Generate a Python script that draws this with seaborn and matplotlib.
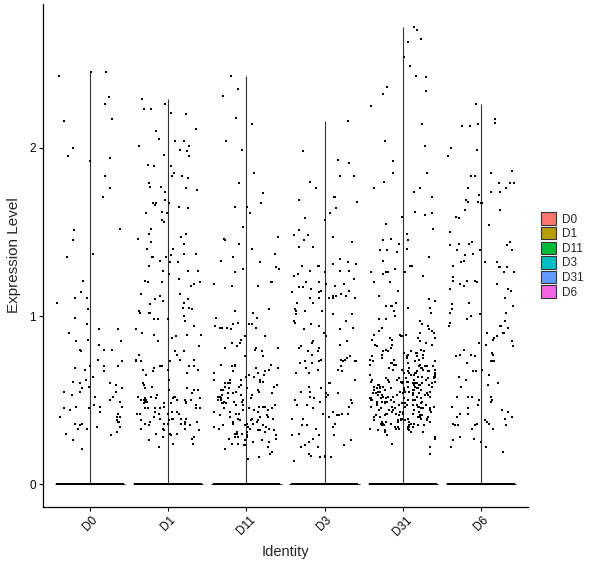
import numpy as np
import pandas as pd
import matplotlib
matplotlib.use("Agg")
import matplotlib.pyplot as plt
from matplotlib.patches import Patch
import seaborn as sns

# clusters on the x axis
idents = ["D0", "D1", "D11", "D3", "D31", "D6"]

# cells with zero expression in each cluster (they pile up on the 0 line)
zero_counts = [350, 450, 550, 450, 650, 400]

# non-zero expression values, per cluster
d0_expr = [2.45, 2.43, 2.45, 2.30, 2.26, 2.16, 2.17, 2.00, 1.94, 1.92, 1.95, 1.83, 1.76, 1.71, 1.52,
           1.51, 1.45, 1.35, 1.37, 1.21, 1.14, 1.11, 1.11, 1.08, 1.04, 0.99, 0.95, 0.92, 0.90, 0.92,
           0.83, 0.85, 0.86, 0.85, 0.80, 0.80, 0.80, 0.79, 0.73, 0.74, 0.70, 0.70, 0.68, 0.67, 0.69,
           0.70, 0.64, 0.61, 0.62, 0.59, 0.60, 0.58, 0.60, 0.57, 0.57, 0.55, 0.55, 0.52, 0.53, 0.55,
           0.52, 0.50, 0.49, 0.46, 0.46, 0.44, 0.45, 0.47, 0.46, 0.45, 0.43, 0.42, 0.40, 0.37, 0.37,
           0.40, 0.40, 0.38, 0.36, 0.33, 0.33, 0.34, 0.34, 0.35, 0.36, 0.31, 0.29, 0.30, 0.26, 0.21]

d1_expr = [2.29, 2.26, 2.23, 2.21, 2.23, 2.20, 2.11, 2.10, 2.05, 2.04, 2.04, 2.01, 1.99, 2.01, 1.98,
           1.96, 1.95, 1.89, 1.90, 1.89, 1.85, 1.83, 1.82, 1.83, 1.79, 1.77, 1.76, 1.74, 1.77, 1.75,
           1.69, 1.67, 1.67, 1.66, 1.67, 1.65, 1.64, 1.62, 1.61, 1.61, 1.57, 1.56, 1.52, 1.49, 1.49,
           1.46, 1.47, 1.43, 1.44, 1.40, 1.40, 1.37, 1.35, 1.36, 1.35, 1.37, 1.35, 1.33, 1.32, 1.32,
           1.30, 1.27, 1.27, 1.27, 1.25, 1.22, 1.21, 1.20, 1.19, 1.20, 1.20,
           1.18, 1.13, 1.12, 1.13, 1.10, 1.08, 1.09, 1.10, 1.07, 1.05, 1.04, 1.05, 1.02, 1.02, 1.02,
           1.03, 1.00, 0.98, 0.97, 0.98, 0.98, 0.94, 0.89, 0.90, 0.89, 0.87, 0.92, 0.88, 0.89, 0.85,
           0.82, 0.79, 0.77, 0.74, 0.74, 0.74, 0.79, 0.77, 0.73, 0.73, 0.73, 0.70, 0.70, 0.69, 0.70,
           0.68, 0.68, 0.68, 0.67, 0.66, 0.65, 0.70, 0.62, 0.59, 0.57, 0.56, 0.57, 0.60, 0.58, 0.56,
           0.56, 0.54, 0.53, 0.52, 0.52, 0.51, 0.52, 0.52, 0.51, 0.51, 0.51, 0.50, 0.50, 0.48, 0.49,
           0.49, 0.50, 0.50, 0.50, 0.48, 0.50, 0.48, 0.47, 0.49, 0.46, 0.45, 0.48, 0.45, 0.45, 0.45,
           0.43, 0.42, 0.45, 0.45, 0.42, 0.43, 0.42, 0.42, 0.43, 0.39, 0.38, 0.40, 0.39, 0.37, 0.38,
           0.37, 0.35, 0.35, 0.36, 0.36, 0.37, 0.39, 0.36, 0.36, 0.39, 0.42, 0.39, 0.36, 0.33, 0.33,
           0.33, 0.32, 0.32, 0.30, 0.30, 0.28, 0.28, 0.29, 0.30, 0.27, 0.26, 0.24, 0.24, 0.22]

d11_expr = [2.43, 2.35, 2.31, 2.18, 2.14, 2.04, 1.99, 1.85, 1.79, 1.73, 1.65, 1.65, 1.67, 1.61, 1.53,
            1.46, 1.47, 1.45, 1.43, 1.40, 1.37, 1.35, 1.33, 1.32, 1.29, 1.28, 1.28, 1.26, 1.20, 1.19,
            1.18, 1.20, 1.18,
            1.04, 1.02, 1.03, 0.99, 0.99, 0.96, 0.95, 0.93, 0.94, 0.93, 0.93, 0.93, 0.95, 0.95, 0.92,
            0.88, 0.86, 0.88, 0.84, 0.84, 0.81, 0.81, 0.81, 0.80, 0.82, 0.79, 0.76, 0.76,
            0.71, 0.71, 0.71, 0.69, 0.70, 0.70, 0.69, 0.67, 0.68, 0.65, 0.66, 0.64, 0.66, 0.64, 0.62,
            0.67, 0.62, 0.62, 0.65, 0.62,
            0.61, 0.61, 0.60, 0.60, 0.60, 0.59, 0.59, 0.58, 0.58, 0.58, 0.57, 0.57, 0.56, 0.56, 0.56,
            0.55, 0.55, 0.54, 0.54, 0.54, 0.53, 0.53, 0.53, 0.52, 0.52, 0.51, 0.51, 0.51, 0.50, 0.50,
            0.50, 0.49, 0.49, 0.49, 0.48, 0.48, 0.48, 0.47, 0.47, 0.47, 0.46, 0.46, 0.46, 0.45, 0.45,
            0.45, 0.44, 0.44, 0.44, 0.43, 0.43, 0.43, 0.42, 0.42, 0.41,
            0.41, 0.40, 0.40, 0.40, 0.39, 0.39, 0.39, 0.38, 0.38, 0.38, 0.37, 0.37, 0.37, 0.36, 0.36,
            0.36, 0.35, 0.35, 0.35, 0.34, 0.34, 0.34, 0.33, 0.33, 0.33, 0.32, 0.32, 0.32, 0.31, 0.31,
            0.31, 0.30, 0.30, 0.30, 0.29, 0.29, 0.28, 0.28, 0.28, 0.27, 0.27, 0.26, 0.26, 0.25, 0.25,
            0.24, 0.24, 0.23, 0.23, 0.22, 0.19, 0.18, 0.16, 0.15, 0.21]

d3_expr = [2.16, 1.98, 1.93, 1.91, 1.83, 1.83, 1.80, 1.76, 1.71, 1.69, 1.68, 1.71, 1.64, 1.61, 1.57,
           1.58, 1.51, 1.48, 1.48, 1.47, 1.45, 1.44, 1.41, 1.41, 1.32, 1.31, 1.30, 1.34, 1.30, 1.30,
           1.31, 1.27, 1.27, 1.27, 1.26, 1.25, 1.24, 1.22, 1.20, 1.20, 1.19, 1.19, 1.18, 1.17, 1.15,
           1.14, 1.16, 1.17, 1.15, 1.13, 1.11, 1.11, 1.11, 1.11,
           1.14, 1.12, 1.12, 1.11, 1.12, 1.08, 1.08, 1.04, 1.03, 1.03, 1.03, 1.01, 1.01, 1.01,
           0.97, 0.96, 0.95, 0.97, 0.94, 0.93, 0.92, 0.92, 0.90, 0.88, 0.85, 0.84, 0.85, 0.83, 0.82,
           0.81, 0.81,
           0.79, 0.77, 0.79, 0.76, 0.73, 0.72, 0.73, 0.75, 0.68, 0.73, 0.72, 0.74, 0.74, 0.73, 0.73,
           0.74, 0.69, 0.68, 0.70, 0.67, 0.66, 0.66, 0.62, 0.60, 0.60,
           0.58, 0.57, 0.55, 0.55, 0.52, 0.53, 0.52, 0.54, 0.51, 0.49, 0.46, 0.48, 0.50, 0.47, 0.43,
           0.42, 0.45, 0.42, 0.42, 0.54, 0.41, 0.47, 0.50,
           0.41, 0.40, 0.39, 0.39, 0.35, 0.34, 0.33, 0.36, 0.35, 0.29, 0.30, 0.26, 0.25, 0.29, 0.23,
           0.27, 0.29, 0.22, 0.23, 0.22, 0.17, 0.17, 0.18, 0.16, 0.14, 0.16, 0.16]

d31_expr = [2.72, 2.70, 2.65, 2.63, 2.54, 2.49, 2.43, 2.42, 2.36, 2.34, 2.32, 2.25, 2.14, 2.04, 2.01,
            1.92, 1.85, 1.85, 1.76, 1.76, 1.71, 1.80, 1.74, 1.71, 1.60, 1.59, 1.61, 1.62, 1.55, 1.52,
            1.49, 1.46, 1.43, 1.45, 1.45, 1.40, 1.39, 1.38, 1.39, 1.35, 1.33, 1.30, 1.30, 1.30, 1.28,
            1.26, 1.26, 1.25, 1.24, 1.26, 1.26,
            1.20, 1.20, 1.15, 1.09, 1.08, 1.06, 1.05, 1.03, 1.06, 1.00, 1.10, 1.12,
            0.98, 0.97, 0.93, 0.91, 0.98, 0.94, 0.91, 1.02, 1.06, 1.05, 0.89, 0.88, 0.89, 0.89, 0.90,
            0.90, 0.88, 0.87, 0.85, 0.82, 0.81, 0.86, 0.83, 0.84, 0.87, 0.87, 0.83, 0.83, 0.79, 0.78,
            0.92, 0.95, 0.86,
            0.80, 0.80, 0.79, 0.79, 0.79, 0.78, 0.78, 0.77, 0.77, 0.77, 0.76, 0.76, 0.76, 0.75, 0.75,
            0.75, 0.74, 0.74, 0.74, 0.73, 0.73, 0.73, 0.72, 0.72, 0.72, 0.72, 0.71, 0.71, 0.71, 0.71,
            0.70, 0.70, 0.70, 0.70, 0.69, 0.69, 0.69, 0.69, 0.68, 0.68, 0.68, 0.68, 0.67, 0.67, 0.67,
            0.67, 0.67, 0.66, 0.66, 0.66, 0.66, 0.66, 0.65, 0.65, 0.65, 0.65, 0.65, 0.64, 0.64, 0.64,
            0.64, 0.64, 0.63, 0.63, 0.63, 0.63, 0.63, 0.62, 0.62, 0.62, 0.62, 0.62, 0.62, 0.61, 0.61,
            0.61, 0.61, 0.61, 0.61, 0.61,
            0.60, 0.60, 0.60, 0.60, 0.60, 0.60, 0.59, 0.59, 0.59, 0.59, 0.59, 0.59, 0.58, 0.58, 0.58,
            0.58, 0.58, 0.58, 0.57, 0.57, 0.57, 0.57, 0.57, 0.57, 0.56, 0.56, 0.56, 0.56, 0.56, 0.56,
            0.55, 0.55, 0.55, 0.55, 0.55, 0.55, 0.54, 0.54, 0.54, 0.54, 0.54, 0.54, 0.53, 0.53, 0.53,
            0.53, 0.53, 0.53, 0.52, 0.52, 0.52, 0.52, 0.52, 0.52, 0.51, 0.51, 0.51, 0.51, 0.51, 0.51,
            0.50, 0.50, 0.50, 0.50, 0.50, 0.50, 0.49, 0.49, 0.49, 0.49, 0.49, 0.49, 0.48, 0.48, 0.48,
            0.48, 0.48, 0.48, 0.47, 0.47, 0.47, 0.47, 0.47, 0.47, 0.46, 0.46, 0.46, 0.46, 0.46, 0.46,
            0.45, 0.45, 0.45, 0.45, 0.45, 0.44, 0.44, 0.44, 0.44, 0.44, 0.43, 0.43, 0.43, 0.43, 0.43,
            0.42, 0.42, 0.42, 0.42, 0.42,
            0.41, 0.41, 0.41, 0.41, 0.41, 0.40, 0.40, 0.40, 0.40, 0.40, 0.39, 0.39, 0.39, 0.39, 0.39,
            0.38, 0.38, 0.38, 0.38, 0.38, 0.37, 0.37, 0.37, 0.37, 0.37, 0.36, 0.36, 0.36, 0.36, 0.36,
            0.35, 0.35, 0.35, 0.35, 0.35, 0.34, 0.34, 0.34, 0.34, 0.34, 0.33, 0.33, 0.33, 0.33, 0.32,
            0.32, 0.32, 0.31, 0.31, 0.31, 0.29, 0.28, 0.27, 0.24, 0.22, 0.18]

d6_expr = [2.26, 2.17, 2.15, 2.14, 2.13, 2.13, 2.00, 1.99, 1.95, 1.83, 1.86, 1.85, 1.83, 1.79, 1.79,
           1.79, 1.76, 1.76, 1.74, 1.74, 1.72, 1.69, 1.68, 1.67, 1.67, 1.68, 1.63, 1.63, 1.59, 1.58,
           1.54, 1.50, 1.43, 1.43, 1.42, 1.44, 1.44, 1.42, 1.39, 1.39, 1.39, 1.37, 1.36, 1.32, 1.33,
           1.32, 1.32, 1.30, 1.29, 1.29, 1.29, 1.26, 1.26, 1.23, 1.21, 1.21,
           1.15, 1.16, 1.19, 1.21, 1.19, 1.18, 1.20, 1.16, 1.11, 1.08, 1.06, 1.07, 1.04, 1.01, 1.00,
           0.97, 1.02, 1.02, 0.98, 0.94, 0.94, 0.93, 0.90, 0.90, 0.90, 0.94, 0.90, 0.86, 0.85, 0.83,
           0.87, 0.84, 0.82, 0.96, 0.88, 0.80, 0.78, 0.77, 0.77, 0.77, 0.76, 0.73, 0.73, 0.76, 0.73,
           0.72, 0.67, 0.68, 0.67, 0.62, 0.64, 0.65, 0.60, 0.58, 0.59, 0.52, 0.52, 0.52, 0.52, 0.50,
           0.50, 0.47, 0.45, 0.44, 0.42, 0.49, 0.46, 0.43, 0.40, 0.42, 0.36, 0.35, 0.35, 0.39, 0.37,
           0.40, 0.40, 0.38, 0.36, 0.33, 0.35, 0.35, 0.27, 0.25, 0.19, 0.22, 0.22, 0.26, 0.28, 0.33,
           0.36]

ident_colors = ["#F8766D", "#B79F00", "#00BA38", "#00BFC4", "#619CFF", "#F564E3"]

all_expr = [d0_expr, d1_expr, d11_expr, d3_expr, d31_expr, d6_expr]
rows = []
for ident, nzero, vals in zip(idents, zero_counts, all_expr):
    rows += [(ident, 0.0)] * nzero
    rows += [(ident, v) for v in vals]
df = pd.DataFrame(rows, columns=["ident", "expr"])

sns.set_style("ticks")
plt.rcParams["font.family"] = ["Liberation Sans", "DejaVu Sans"]

fig = plt.figure(figsize=(6, 5.68), dpi=100)
ax = fig.add_axes([0.0717, 0.1074, 0.8083, 0.8856])

# the violins collapse to a flat spike at 0 and a thin stalk up to the max
pos = np.arange(len(idents))
tops = df.groupby("ident")["expr"].max().reindex(idents).values
ax.vlines(pos, 0, tops, color="#333333", lw=0.8, zorder=1)
ax.hlines(np.zeros(len(idents)), pos - 0.45, pos + 0.45, color="#333333", lw=0.8, zorder=1)

np.random.seed(7)
sns.stripplot(data=df, x="ident", y="expr", order=idents, color="black", marker="s",
              size=2.0, jitter=0.42, linewidth=0, ax=ax, zorder=2)

ax.set_xlim(-0.6, 5.6)
ax.set_ylim(-0.136, 2.856)
ax.set_yticks([0, 1, 2])
ax.set_xlabel("Identity", fontsize=10.5, labelpad=5)
ax.set_ylabel("Expression Level", fontsize=11, labelpad=6)
sns.despine(ax=ax)
for side in ["left", "bottom"]:
    ax.spines[side].set_color("black")
    ax.spines[side].set_linewidth(0.9)
ax.tick_params(length=3, width=0.75, color="black", labelsize=8.5, labelcolor="black", pad=2)
plt.setp(ax.get_xticklabels(), rotation=45)

handles = [Patch(facecolor=c, edgecolor="#333333", lw=0.8, label=l)
           for l, c in zip(idents, ident_colors)]
ax.legend(handles=handles, loc="center left", bbox_to_anchor=(1.027, 0.5), frameon=False,
          fontsize=8.5, handlelength=1.25, handleheight=1.25, labelspacing=0.12,
          handletextpad=0.5, borderpad=0, borderaxespad=0)

fig.savefig("out.png", dpi=100)
